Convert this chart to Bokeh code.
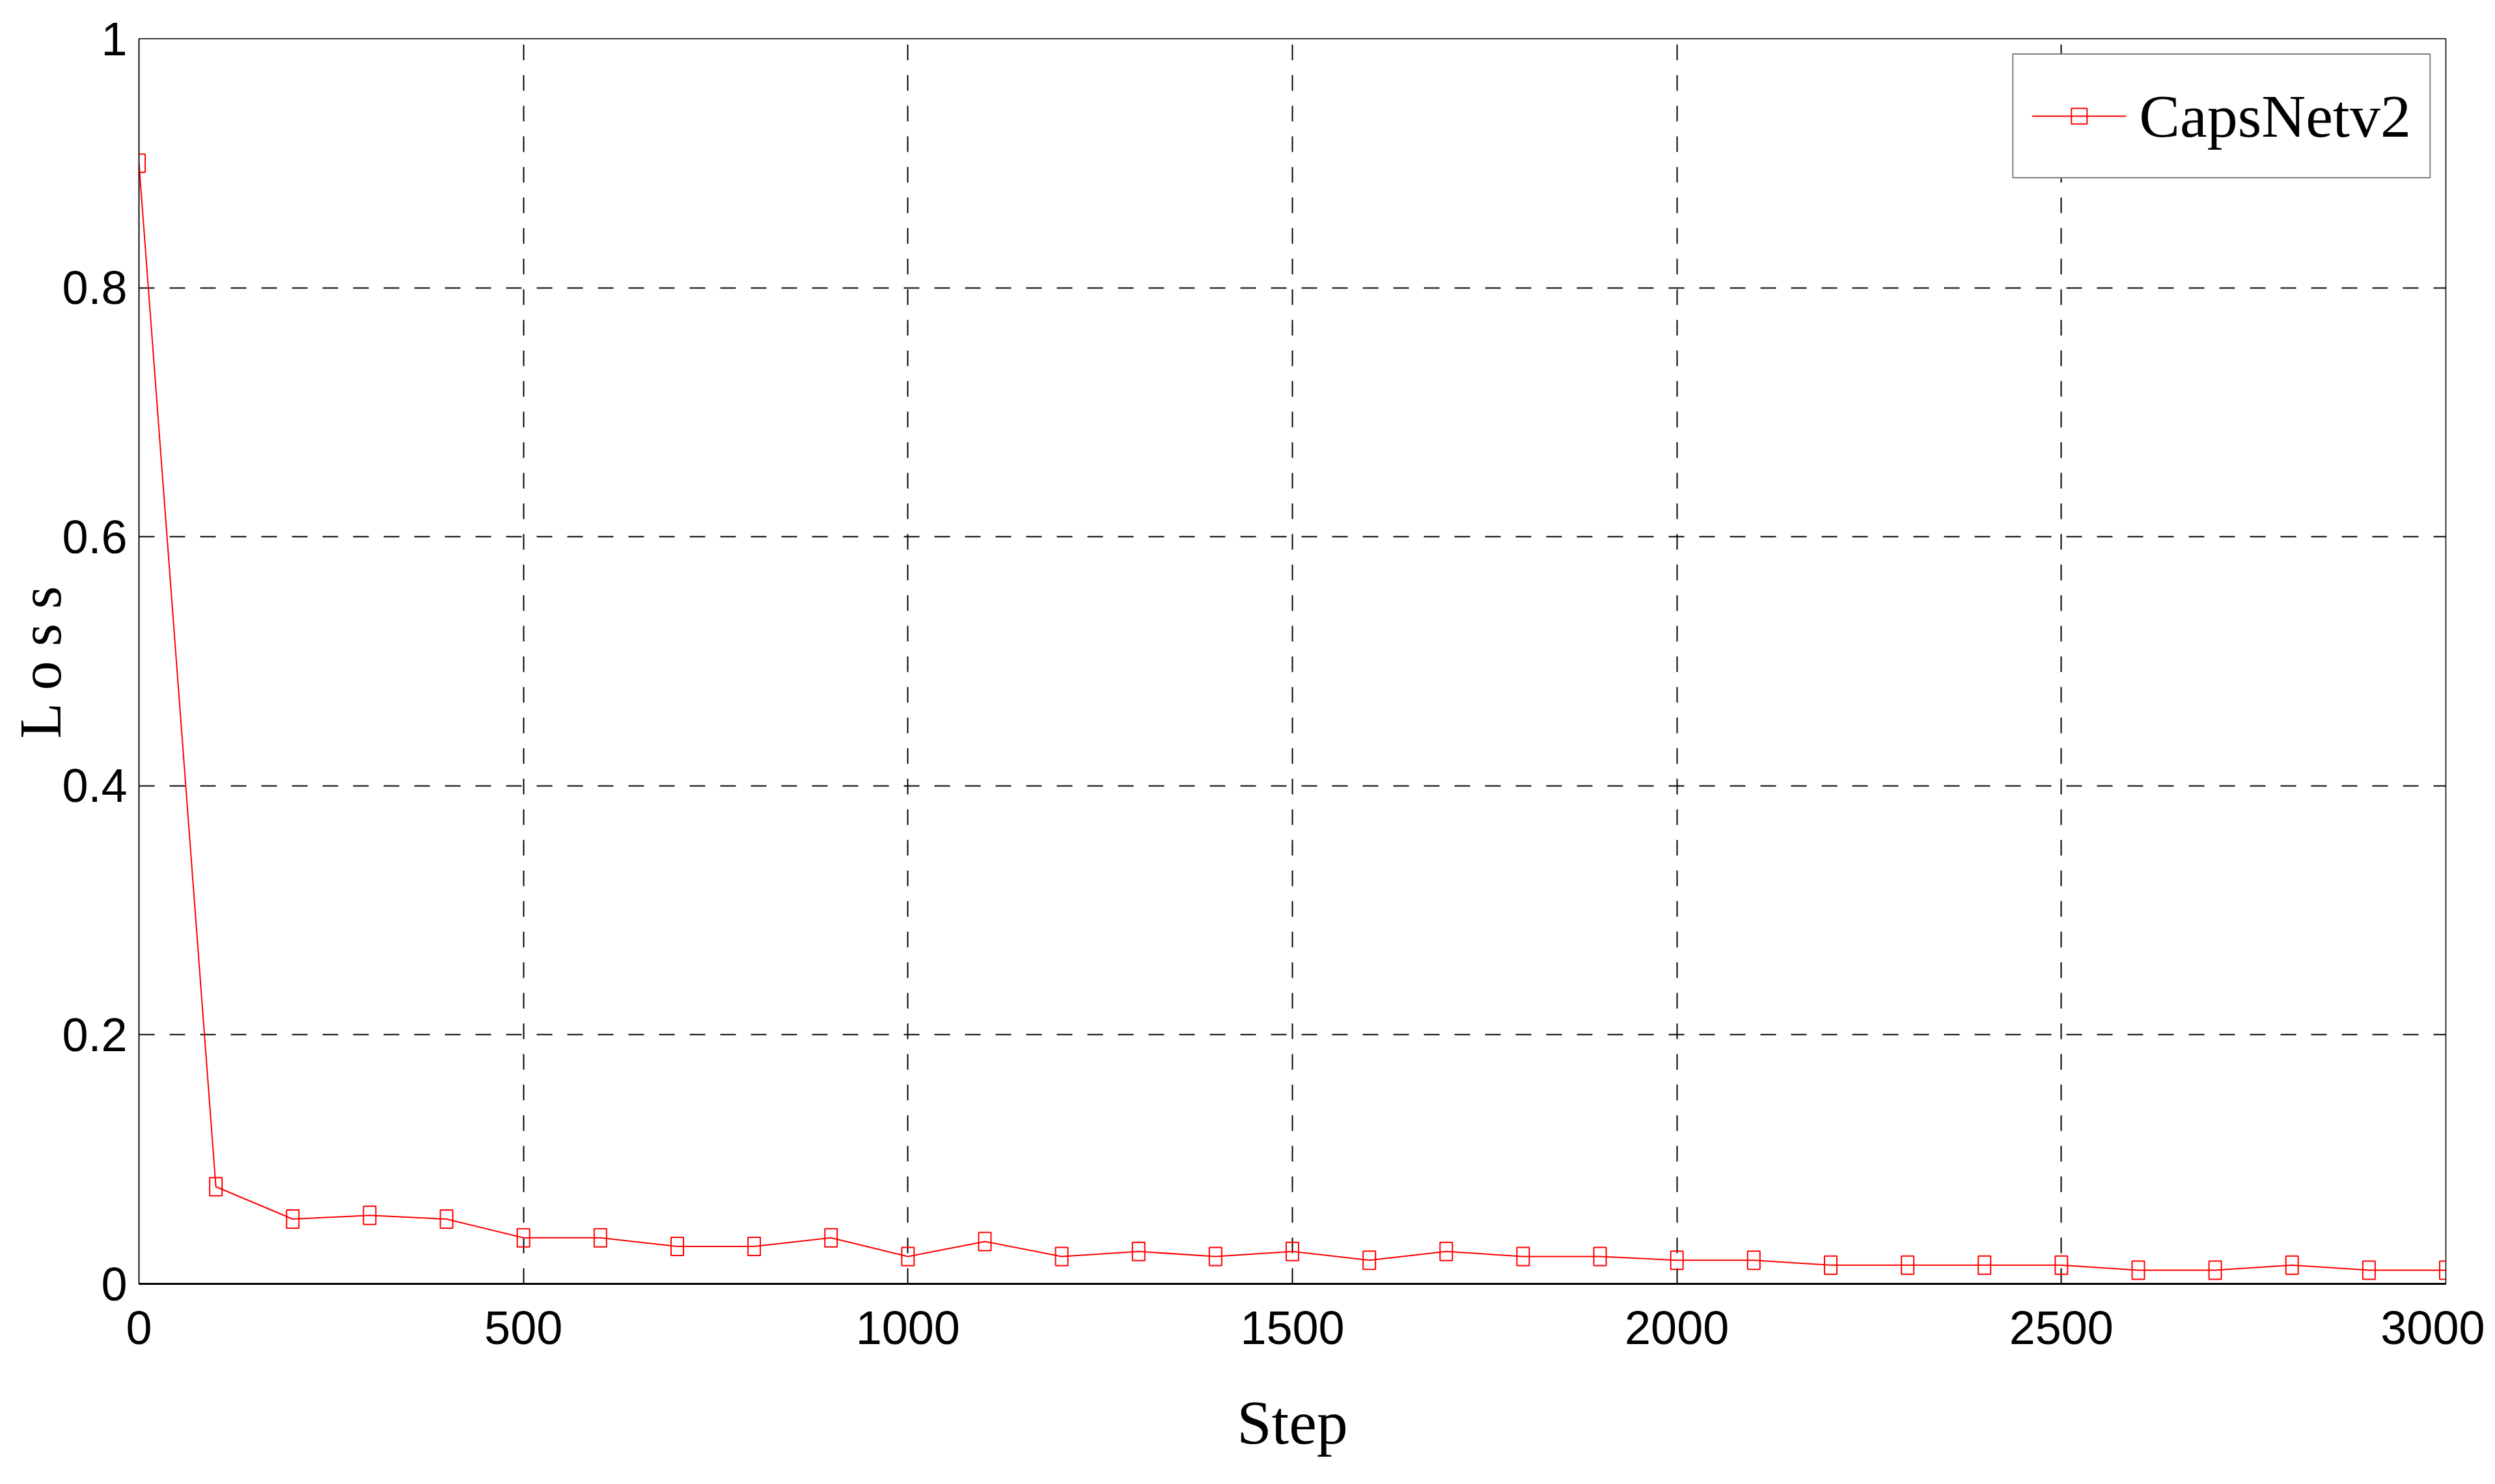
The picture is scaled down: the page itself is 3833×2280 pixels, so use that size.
from bokeh.plotting import figure
from bokeh.models import (Range1d, FixedTicker, CustomJSTickFormatter, Legend,
                          LegendItem, ColumnDataSource)
from bokeh.embed import file_html
from bokeh.resources import INLINE

# ---- data ----
steps = [0, 100, 200, 300, 400, 500, 600, 700, 800, 900, 1000, 1100, 1200, 1300,
         1400, 1500, 1600, 1700, 1800, 1900, 2000, 2100, 2200, 2300, 2400, 2500,
         2600, 2700, 2800, 2900, 3000]
loss = [0.900, 0.078, 0.052, 0.055, 0.052, 0.037, 0.037, 0.030, 0.030, 0.037,
        0.022, 0.034, 0.022, 0.026, 0.022, 0.026, 0.019, 0.026, 0.022, 0.022,
        0.019, 0.019, 0.015, 0.015, 0.015, 0.015, 0.011, 0.011, 0.015, 0.011,
        0.011]
series_name = "CapsNetv2"
x_ticks = [0, 500, 1000, 1500, 2000, 2500, 3000]
y_ticks = [0, 0.2, 0.4, 0.6, 0.8, 1.0]
x_label = "Step"
y_label = "L o s s"

src = ColumnDataSource(data=dict(x=steps, y=loss))

p = figure(width=3817, height=2264, output_backend="svg", toolbar_location=None,
           x_range=Range1d(0, 3000), y_range=Range1d(0, 1),
           min_border_left=213, min_border_right=60, min_border_top=59,
           min_border_bottom=292)
p.background_fill_color = "white"
p.border_fill_color = "white"
p.outline_line_color = "black"
p.outline_line_width = 1.5

# grid
for g in (p.xgrid, p.ygrid):
    g.grid_line_color = "black"
    g.grid_line_width = 2
    g.grid_line_dash = "24 23"
p.xgrid.ticker = FixedTicker(ticks=x_ticks)
p.ygrid.ticker = FixedTicker(ticks=y_ticks)

# axes
tick_font = "Liberation Sans"
p.xaxis.ticker = FixedTicker(ticks=x_ticks)
p.yaxis.ticker = FixedTicker(ticks=y_ticks)
p.yaxis.formatter = CustomJSTickFormatter(code="return String(Math.round(tick*10)/10)")
p.xaxis.formatter = CustomJSTickFormatter(code="return String(Math.round(tick))")
for ax in (p.xaxis, p.yaxis):
    ax.major_label_text_font = tick_font
    ax.major_label_text_font_size = "72px"
    ax.major_label_text_color = "black"
    ax.axis_label_text_font = "Liberation Serif"
    ax.axis_label_text_font_style = "normal"
    ax.axis_label_text_color = "black"
    ax.major_tick_in = 8
    ax.major_tick_out = 0
    ax.minor_tick_line_color = None
    ax.major_tick_line_color = "black"
    ax.axis_line_color = "black"
p.xaxis.axis_line_width = 3
p.yaxis.axis_line_width = 1.5
p.xaxis.major_label_standoff = 42
p.yaxis.major_label_standoff = 18
p.xaxis.axis_label = x_label
p.yaxis.axis_label = y_label
p.xaxis.axis_label_text_font_size = "96px"
p.yaxis.axis_label_text_font_size = "90px"
p.xaxis.axis_label_standoff = 64
p.yaxis.axis_label_standoff = -20

# series
line_r = p.line("x", "y", source=src, line_color="#ff0000", line_width=2)
p.rect("x", "y", width=19, height=28, width_units="screen", height_units="screen",
       source=src, fill_color=None, line_color="#ff0000", line_width=2)
legend_marker = p.scatter("x", "y", source=src, marker="square", size=24,
                          fill_color=None, line_color="#ff0000", line_width=2)
legend_marker.visible = False

legend = Legend(items=[LegendItem(label=series_name, renderers=[line_r, legend_marker])],
                location="top_right", margin=23, padding=28,
                glyph_width=145, glyph_height=60, label_height=132,
                label_standoff=20,
                label_text_font="Liberation Serif", label_text_font_size="94px",
                label_text_color="black",
                border_line_color="black", border_line_width=2,
                background_fill_color="white", background_fill_alpha=1.0)
p.add_layout(legend)

open("out.html", "w").write(file_html(p, INLINE))
